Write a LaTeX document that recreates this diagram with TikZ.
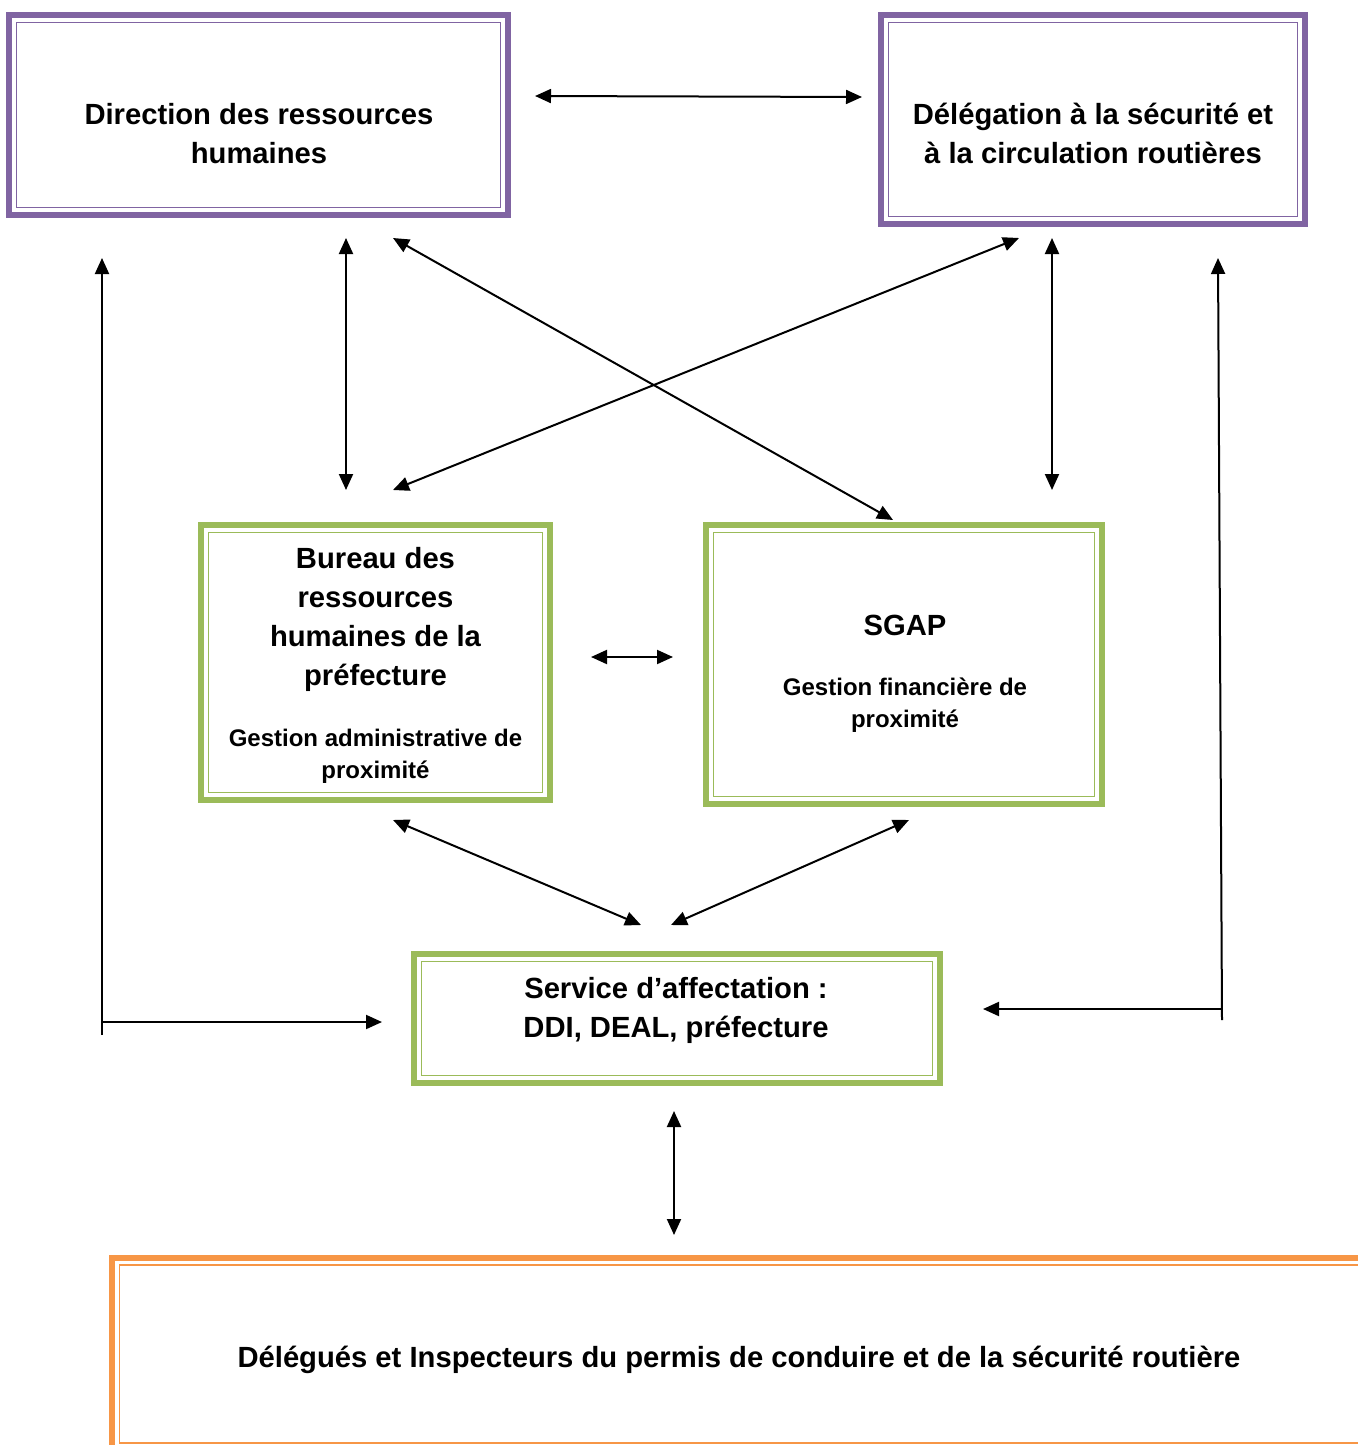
\documentclass[tikz,border=0pt]{standalone}
\usepackage{fontspec}
\setmainfont{Liberation Sans}
\usetikzlibrary{arrows.meta,calc}
\definecolor{violetcadre}{HTML}{8064A2}
\definecolor{vertcadre}{HTML}{9BBB59}
\definecolor{orangecadre}{HTML}{F79646}
\tikzset{
  cadre/.style={draw=#1, line width=3pt, inner sep=0pt},
  lien/.style={line width=1pt, {Triangle[length=8pt,width=7pt]}-{Triangle[length=8pt,width=7pt]}},
  fleche/.style={line width=1pt, -{Triangle[length=8pt,width=7pt]}},
  gros/.style={font=\bfseries\fontsize{14.6}{19.5}\selectfont, align=center},
  petit/.style={font=\bfseries\fontsize{12}{16}\selectfont, align=center}
}

\begin{document}
\begin{tikzpicture}[x=0.5pt,y=-0.5pt]
  \useasboundingbox (0,0) rectangle (1358,1445);
  \clip (0,0) rectangle (1358,1445);
  % cadres
  \node[cadre=violetcadre, minimum width=249.5pt, minimum height=99.75pt] (drh) at (258.5,115) {};
  \node[cadre=violetcadre, minimum width=212pt, minimum height=104.5pt] (dscr) at (1093,119.5) {};
  \node[cadre=vertcadre, minimum width=174.5pt, minimum height=137.5pt] (bureau) at (375.5,662.5) {};
  \node[cadre=vertcadre, minimum width=198pt, minimum height=139.5pt] (sgap) at (904,664.5) {};
  \node[cadre=vertcadre, minimum width=263pt, minimum height=64.5pt] (service) at (677,1018.5) {};
  \node[cadre=orangecadre, minimum width=627pt, minimum height=96.5pt] (delegues) at (739,1354) {};
  \foreach \n/\c in {drh/violetcadre, dscr/violetcadre, bureau/vertcadre, sgap/vertcadre, service/vertcadre, delegues/orangecadre}
    \draw[\c, line width=0.75pt] ($(\n.north west)+(10.5,10.5)$) rectangle ($(\n.south east)+(-10.5,-10.5)$);
  % textes
  \node[gros] (t-drh) at (259,133.5) {Direction des ressources\\humaines};
  \node[gros] (t-dscr) at (1093,133.5) {Délégation à la sécurité et\\à la circulation routières};
  \node[gros] (t-bureau) at (375.5,619) {Bureau des\\ressources\\humaines de la\\préfecture};
  \node[petit] (t-gestadm) at (375.5,756) {Gestion administrative de\\proximité};
  \node[gros] (t-sgap) at (905,625) {SGAP};
  \node[petit] (t-gestfin) at (905,705) {Gestion financière de\\proximité};
  \node[gros] (t-service) at (676,1010) {Service d’affectation :\\DDI, DEAL, préfecture};
  \node[gros] (t-delegues) at (739,1360) {Délégués et Inspecteurs du permis de conduire et de la sécurité routière};
  % extremites des fleches
  \coordinate (drh-e) at (535,96);
  \coordinate (dscr-w) at (862,97);
  \coordinate (drh-s) at (346,238);
  \coordinate (bureau-n) at (346,490);
  \coordinate (drh-se) at (393,238);
  \coordinate (sgap-nw) at (893,520);
  \coordinate (dscr-sw) at (1019,238);
  \coordinate (bureau-ne) at (393,490);
  \coordinate (dscr-s) at (1052,238);
  \coordinate (sgap-n) at (1052,490);
  \coordinate (bureau-e) at (591,657);
  \coordinate (sgap-w) at (673,657);
  \coordinate (bureau-s) at (393,820);
  \coordinate (service-nw) at (641,925);
  \coordinate (sgap-s) at (909,820);
  \coordinate (service-ne) at (671,925);
  \coordinate (service-s) at (674,1111);
  \coordinate (delegues-n) at (674,1235);
  % retours lateraux
  \coordinate (gauche-b) at (102,1035);
  \coordinate (gauche-h) at (102,258);
  \coordinate (gauche-m) at (102,1022);
  \coordinate (service-w) at (382,1022);
  \coordinate (droite-b) at (1222,1020);
  \coordinate (droite-h) at (1218,258);
  \coordinate (droite-m) at (1222,1009);
  \coordinate (service-e) at (983,1009);
  % liens
  \draw[lien] (drh-e) -- (dscr-w);
  \draw[lien] (drh-s) -- (bureau-n);
  \draw[lien] (drh-se) -- (sgap-nw);
  \draw[lien] (dscr-sw) -- (bureau-ne);
  \draw[lien] (dscr-s) -- (sgap-n);
  \draw[lien] (bureau-e) -- (sgap-w);
  \draw[lien] (bureau-s) -- (service-nw);
  \draw[lien] (sgap-s) -- (service-ne);
  \draw[lien] (service-s) -- (delegues-n);
  \draw[fleche] (gauche-b) -- (gauche-h);
  \draw[fleche] (gauche-m) -- (service-w);
  \draw[fleche] (droite-b) -- (droite-h);
  \draw[fleche] (droite-m) -- (service-e);
\end{tikzpicture}
\end{document}
